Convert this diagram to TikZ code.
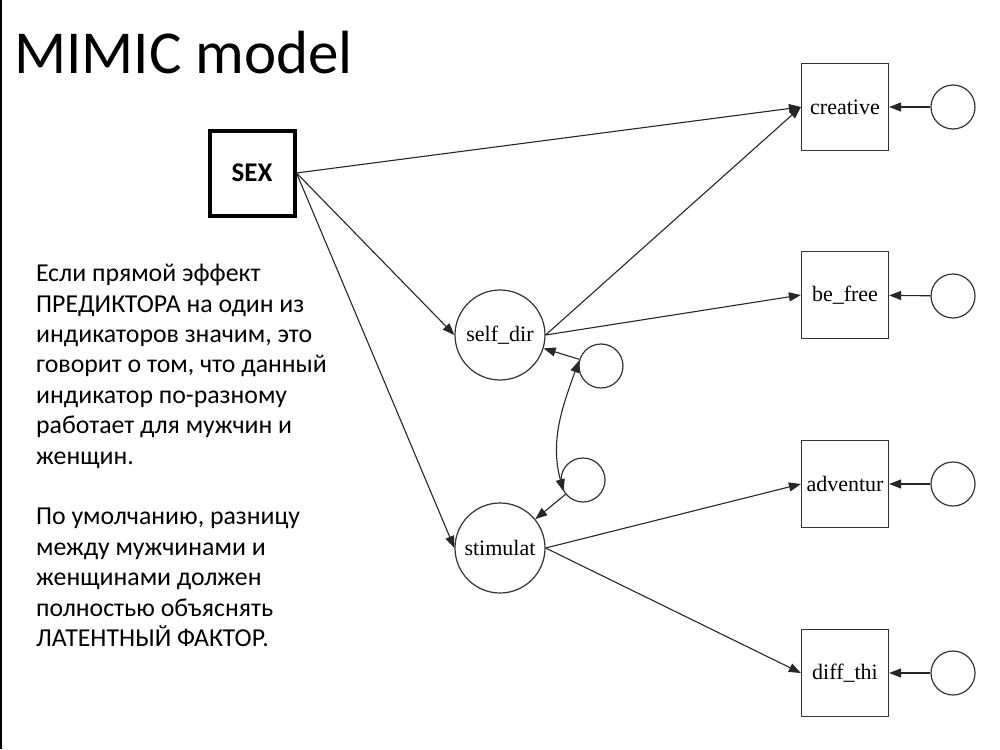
\documentclass[tikz,border=0pt]{standalone}
\usepackage{fontspec}
\setmainfont{Carlito}
\newfontfamily\gvfont{Liberation Serif}
\usetikzlibrary{arrows.meta}
\begin{document}
\begin{tikzpicture}[x=1pt,y=1pt]
\tikzset{
    mmObs/.style={rectangle,draw=black!80,line width=1.2pt,minimum size=87pt,inner sep=0pt,font=\gvfont\fontsize{22}{26}\selectfont},
    mmLat/.style={circle,draw=black!80,line width=1.2pt,minimum size=90pt,inner sep=0pt,font=\gvfont\fontsize{22}{26}\selectfont},
    mmErr/.style={circle,draw=black!80,line width=1.2pt,minimum size=44pt,inner sep=0pt},
    mmPath/.style={draw=black!85,line width=1.1pt,-{Triangle[length=12pt,width=9pt]}},
}
\useasboundingbox (0,0) rectangle (1000,-749);
\fill[black] (0,0) rectangle (2,-749);

\node[anchor=base west,inner sep=0pt,font=\fontsize{61}{70}\selectfont] (title) at (14,-74) {MIMIC model};
\node[anchor=north west,inner sep=0pt,align=left,font=\fontsize{25.8}{30.4}\selectfont] (note) at (36,-264)
    {Если прямой эффект\\ПРЕДИКТОРА на один из\\индикаторов значим, это\\говорит о том, что данный\\индикатор по-разному\\работает для мужчин и\\женщин.\\[30.4pt]По умолчанию, разницу\\между мужчинами и\\женщинами должен\\полностью объяснять\\ЛАТЕНТНЫЙ ФАКТОР.};

\node[rectangle,draw=black,line width=4pt,minimum size=85pt,inner sep=0pt,font=\bfseries\fontsize{27}{32}\selectfont] (sex) at (252,-173) {SEX};

\node[mmLat] (selfdir) at (500,-335) {self\_dir};
\node[mmLat] (stimulat) at (500,-548) {stimulat};

\node[mmObs] (creative) at (845,-107) {creative};
\node[mmObs] (befree) at (845,-295) {be\_free};
\node[mmObs] (adventur) at (845,-484) {adventur};
\node[mmObs] (diffthi) at (845,-673) {diff\_thi};

\node[mmErr] (ecreative) at (953,-107) {};
\node[mmErr] (ebefree) at (953,-296) {};
\node[mmErr] (eadventur) at (953,-484) {};
\node[mmErr] (ediffthi) at (953,-673) {};
\node[mmErr] (eselfdir) at (601,-366) {};
\node[mmErr] (estimulat) at (583,-480) {};

\draw[mmPath] (sex.east) -- (creative.west);
\draw[mmPath] (sex.east) -- (selfdir.west);
\draw[mmPath] (sex.east) -- (stimulat.west);
\draw[mmPath] (selfdir.east) -- (creative.west);
\draw[mmPath] (selfdir.east) -- (befree.west);
\draw[mmPath] (stimulat.east) -- (adventur.west);
\draw[mmPath] (stimulat.east) -- (diffthi.west);

\draw[mmPath] (ecreative) -- (creative);
\draw[mmPath] (ebefree) -- (befree);
\draw[mmPath] (eadventur) -- (adventur);
\draw[mmPath] (ediffthi) -- (diffthi);
\draw[mmPath] (eselfdir) -- (selfdir);
\draw[mmPath] (estimulat) -- (stimulat);

\draw[mmPath,{Triangle[length=12pt,width=9pt]}-{Triangle[length=12pt,width=9pt]}] (eselfdir.166) to[out=250,in=105] (estimulat.210);
\end{tikzpicture}
\end{document}
